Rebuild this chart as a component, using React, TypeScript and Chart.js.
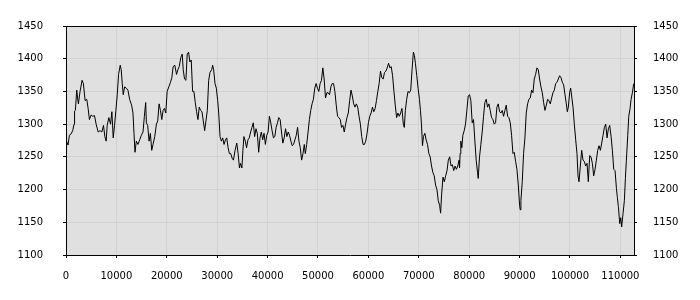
import React, { useEffect, useRef } from "react";
import { Chart, registerables } from "chart.js";

Chart.register(...registerables);

const xValues: number[] = [
  0, 400, 670, 1000, 1330, 1600, 1700, 1860, 2130, 2300, 2460, 2790, 3190, 3450, 3790, 4120, 4390, 4650, 4990, 5320,
  5650, 5980, 6380, 6780, 7110, 7440, 7710, 7970, 8170, 8500, 8840, 9100, 9370, 9630, 9900, 10170, 10430, 10760, 10960, 11160,
  11360, 11630, 11960, 12290, 12620, 13020, 13290, 13490, 13690, 13950, 14280, 14620, 14950, 15280, 15550, 15810, 15950, 16210, 16480, 16740,
  17010, 17270, 17610, 17940, 18200, 18470, 18740, 19000, 19270, 19530, 19800, 20070, 20400, 20730, 21000, 21260, 21590, 21930, 22190, 22460,
  22790, 23060, 23260, 23520, 23790, 24050, 24320, 24580, 24850, 25120, 25380, 25650, 25910, 26180, 26440, 26710, 26980, 27240, 27510, 27770,
  28040, 28310, 28570, 28900, 29100, 29300, 29570, 29830, 30100, 30300, 30560, 30830, 31090, 31360, 31630, 31890, 32160, 32420, 32690, 32960,
  33220, 33550, 33890, 34150, 34420, 34620, 34900, 35100, 35300, 35570, 35830, 36100, 36360, 36630, 36900, 37160, 37430, 37700, 37960, 38230,
  38490, 38760, 39030, 39290, 39560, 39830, 40100, 40360, 40630, 40890, 41160, 41430, 41690, 41960, 42220, 42490, 42760, 43020, 43290, 43560,
  43820, 44090, 44350, 44620, 44890, 45150, 45420, 45690, 45950, 46220, 46480, 46750, 47020, 47280, 47480, 47760, 48030, 48290, 48560, 48820,
  49090, 49360, 49620, 49890, 50160, 50420, 50690, 50960, 51220, 51490, 51760, 52020, 52290, 52550, 52820, 53090, 53350, 53620, 53880, 54150,
  54420, 54680, 54950, 55210, 55480, 55750, 56010, 56280, 56550, 56810, 57080, 57340, 57610, 57880, 58140, 58410, 58670, 58940, 59210, 59470,
  59740, 60000, 60270, 60540, 60800, 61070, 61340, 61600, 61870, 62130, 62400, 62670, 62930, 63200, 63470, 63730, 64000, 64270, 64530, 64800,
  65070, 65330, 65600, 65860, 66130, 66400, 66660, 66930, 67130, 67330, 67600, 67860, 68130, 68400, 68660, 68930, 69130, 69330, 69600, 69860,
  70130, 70330, 70530, 70730, 70930, 71200, 71460, 71730, 72000, 72260, 72530, 72800, 73060, 73330, 73600, 73860, 74130, 74330, 74530, 74800,
  75060, 75330, 75600, 75860, 76130, 76400, 76660, 76930, 77200, 77460, 77730, 78000, 78080, 78200, 78340, 78540, 78740, 79010, 79270, 79540,
  79800, 80070, 80330, 80600, 80860, 81130, 81390, 81660, 81790, 82050, 82320, 82580, 82850, 83110, 83380, 83640, 83910, 84170, 84440, 84700,
  84970, 85230, 85500, 85760, 86030, 86290, 86560, 86820, 87090, 87350, 87620, 87880, 88150, 88410, 88680, 88940, 89210, 89470, 89740, 90000,
  90130, 90260, 90530, 90790, 91060, 91320, 91590, 91850, 92120, 92380, 92650, 92910, 93180, 93440, 93710, 93970, 94240, 94500, 94770, 95030,
  95300, 95560, 95830, 96090, 96360, 96620, 96890, 97150, 97420, 97680, 97950, 98210, 98480, 98740, 99010, 99270, 99470, 99670, 99930, 100130,
  100330, 100600, 100860, 101130, 101390, 101590, 101790, 102050, 102320, 102580, 102850, 103110, 103380, 103640, 103910, 104170, 104440, 104700, 104970, 105230,
  105500, 105760, 106030, 106290, 106560, 106820, 107090, 107350, 107620, 107880, 108150, 108410, 108680, 108940, 109210, 109400, 109600, 109870, 110070, 110260,
  110530, 110790, 110990, 111190, 111460, 111660, 111920, 112120, 112380, 112650,
];

const yValues: number[] = [
  1276, 1268, 1283, 1285, 1290, 1300, 1320, 1321, 1352, 1340, 1331, 1350, 1367, 1362, 1336, 1338, 1324, 1307, 1314, 1312,
  1313, 1300, 1288, 1290, 1288, 1298, 1281, 1274, 1298, 1310, 1300, 1319, 1279, 1298, 1321, 1345, 1376, 1390, 1383, 1362,
  1345, 1357, 1355, 1352, 1338, 1329, 1317, 1286, 1257, 1274, 1269, 1276, 1283, 1288, 1312, 1333, 1302, 1298, 1274, 1286,
  1260, 1269, 1281, 1300, 1305, 1331, 1321, 1307, 1321, 1324, 1317, 1350, 1357, 1364, 1371, 1388, 1390, 1376, 1383, 1388,
  1402, 1407, 1383, 1369, 1367, 1407, 1410, 1395, 1398, 1350, 1350, 1333, 1319, 1307, 1326, 1321, 1319, 1305, 1290, 1305,
  1321, 1367, 1379, 1383, 1390, 1383, 1362, 1355, 1336, 1317, 1281, 1274, 1279, 1269, 1276, 1279, 1264, 1255, 1255, 1248,
  1245, 1260, 1271, 1255, 1233, 1240, 1233, 1260, 1281, 1274, 1264, 1276, 1279, 1288, 1295, 1302, 1281, 1293, 1286, 1257,
  1279, 1288, 1276, 1286, 1269, 1283, 1288, 1312, 1302, 1290, 1279, 1281, 1295, 1302, 1310, 1307, 1288, 1271, 1279, 1293,
  1281, 1288, 1283, 1274, 1267, 1269, 1276, 1283, 1295, 1274, 1264, 1245, 1255, 1269, 1255, 1269, 1288, 1307, 1321, 1331,
  1338, 1355, 1362, 1355, 1350, 1362, 1367, 1386, 1369, 1340, 1348, 1348, 1345, 1357, 1362, 1362, 1350, 1329, 1312, 1310,
  1307, 1295, 1298, 1288, 1300, 1310, 1317, 1336, 1352, 1343, 1331, 1326, 1331, 1326, 1312, 1300, 1281, 1269, 1269, 1274,
  1286, 1302, 1312, 1317, 1326, 1319, 1324, 1336, 1350, 1362, 1381, 1371, 1369, 1379, 1381, 1386, 1393, 1386, 1388, 1374,
  1350, 1329, 1310, 1317, 1312, 1317, 1324, 1300, 1295, 1321, 1338, 1350, 1348, 1352, 1383, 1410, 1405, 1393, 1374, 1355,
  1338, 1321, 1300, 1267, 1281, 1286, 1276, 1269, 1255, 1250, 1236, 1226, 1221, 1207, 1200, 1183, 1176, 1164, 1193, 1219,
  1212, 1221, 1229, 1245, 1250, 1236, 1238, 1229, 1236, 1231, 1236, 1245, 1233, 1255, 1274, 1264, 1283, 1290, 1300, 1321,
  1343, 1345, 1336, 1302, 1307, 1274, 1245, 1226, 1217, 1250, 1269, 1288, 1312, 1333, 1338, 1326, 1331, 1321, 1310, 1307,
  1300, 1302, 1326, 1331, 1319, 1317, 1321, 1312, 1321, 1329, 1312, 1310, 1302, 1283, 1255, 1257, 1243, 1231, 1207, 1176,
  1169, 1183, 1212, 1255, 1279, 1317, 1331, 1338, 1340, 1352, 1348, 1369, 1376, 1386, 1383, 1369, 1357, 1348, 1333, 1321,
  1329, 1338, 1336, 1331, 1340, 1348, 1352, 1362, 1364, 1369, 1374, 1371, 1364, 1360, 1345, 1331, 1319, 1326, 1348, 1355,
  1343, 1326, 1300, 1276, 1255, 1221, 1212, 1236, 1260, 1245, 1243, 1236, 1240, 1212, 1252, 1250, 1240, 1221, 1231, 1245,
  1260, 1267, 1260, 1271, 1283, 1295, 1300, 1279, 1293, 1298, 1281, 1260, 1231, 1229, 1202, 1188, 1174, 1148, 1157, 1143,
  1164, 1183, 1217, 1245, 1283, 1312, 1324, 1338, 1348, 1362,
];

const xMin = 0;
const xMax = 112700;
const xTicks: number[] = [0, 10000, 20000, 30000, 40000, 50000, 60000, 70000, 80000, 90000, 100000, 110000];
const yMin = 1100;
const yMax = 1450;
const yTicks: number[] = [1100, 1150, 1200, 1250, 1300, 1350, 1400, 1450];

const FONT = { family: "'DejaVu Sans', sans-serif", size: 10 };
const plain = (v: any) => String(v);

export default function App() {
  const ref = useRef<HTMLCanvasElement | null>(null);

  useEffect(() => {
    if (!ref.current) return;
    const points = xValues.map((x, i) => ({ x, y: yValues[i] }));

    const framePlugin = {
      id: "frame",
      beforeDraw(chart: any) {
        const { ctx, chartArea } = chart;
        ctx.save();
        ctx.fillStyle = "#e0e0e0";
        ctx.fillRect(chartArea.left, chartArea.top, chartArea.right - chartArea.left, chartArea.bottom - chartArea.top);
        ctx.restore();
      },
      afterDraw(chart: any) {
        const { ctx, chartArea } = chart;
        ctx.save();
        ctx.strokeStyle = "#000";
        ctx.lineWidth = 1;
        ctx.beginPath();
        ctx.moveTo(chartArea.left - 2, chartArea.top + 0.5);
        ctx.lineTo(chartArea.right + 2, chartArea.top + 0.5);
        ctx.stroke();
        ctx.restore();
      },
    };

    const chart = new Chart(ref.current, {
      type: "line",
      data: {
        datasets: [
          {
            data: points,
            borderColor: "#000",
            borderWidth: 1,
            pointRadius: 0,
            tension: 0,
            fill: false,
          },
        ],
      },
      options: {
        animation: false,
        responsive: false,
        layout: { padding: { top: 10, left: 0, right: 0, bottom: 0 } },
        plugins: { legend: { display: false }, tooltip: { enabled: false } },
        scales: {
          x: {
            type: "linear",
            min: xMin,
            max: xMax,
            afterBuildTicks(scale: any) {
              scale.ticks = xTicks.map((value) => ({ value }));
            },
            afterFit(scale: any) {
              scale.height = 45;
            },
            ticks: {
              autoSkip: false,
              maxRotation: 0,
              color: "#000",
              font: FONT,
              padding: 12,
              callback: plain,
            },
            grid: { color: "#d2d2d2", tickColor: "#000", tickLength: 3 },
            border: { color: "#000", width: 1 },
          },
          y: {
            position: "left",
            min: yMin,
            max: yMax,
            afterBuildTicks(scale: any) {
              scale.ticks = yTicks.map((value) => ({ value }));
            },
            afterFit(scale: any) {
              scale.width = 66;
            },
            ticks: { color: "#000", font: FONT, padding: 20, callback: plain },
            grid: { color: "#d2d2d2", tickColor: "#000", tickLength: 3 },
            border: { color: "#000", width: 1 },
          },
          y2: {
            position: "right",
            min: yMin,
            max: yMax,
            afterBuildTicks(scale: any) {
              scale.ticks = yTicks.map((value) => ({ value }));
            },
            afterFit(scale: any) {
              scale.width = 66;
            },
            ticks: { color: "#000", font: FONT, padding: 16, callback: plain },
            grid: { drawOnChartArea: false, tickColor: "#000", tickLength: 3 },
            border: { color: "#000", width: 1 },
          },
        },
      },
      plugins: [framePlugin],
    } as any);

    return () => chart.destroy();
  }, []);

  return (
    <div style={{ position: "absolute", left: 0, top: 0, width: 700, height: 300, background: "#fff" }}>
      <canvas ref={ref} width={700} height={300} style={{ display: "block" }} />
    </div>
  );
}
